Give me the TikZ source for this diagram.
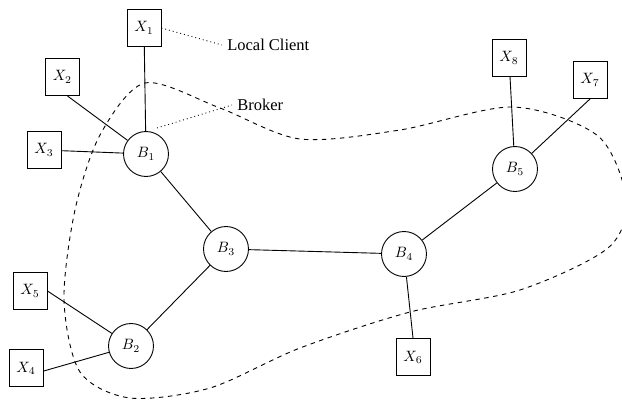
\documentclass[tikz,border=0pt]{standalone}
\usepackage{fontspec}
\setmainfont{Liberation Serif}
\usepackage{tikz}
\usetikzlibrary{shapes,positioning,calc}

\tikzset{
  client/.style={draw, semithick, rectangle, minimum width=22.7pt, minimum height=24.7pt, inner sep=0pt},
  broker/.style={draw, semithick, circle, minimum size=30pt, inner sep=0pt},
  link/.style={semithick},
  tag/.style={semithick, dotted}
}

\begin{document}
\begin{tikzpicture}[x=0.9375cm, y=0.9375cm]
\useasboundingbox (0,0) rectangle (15.55,10);

% brokers
\node[broker] (B1) at (3.65, 6.15) {$B_1$};
\node[broker] (B2) at (3.275, 1.35) {$B_2$};
\node[broker] (B3) at (5.65, 3.775) {$B_3$};
\node[broker] (B4) at (10.1, 3.65) {$B_4$};
\node[broker] (B5) at (12.875, 5.775) {$B_5$};

% local clients
\node[client] (X1) at (3.6, 9.3) {$X_1$};
\node[client] (X2) at (1.56, 8.075) {$X_2$};
\node[client] (X3) at (1.1, 6.25) {$X_3$};
\node[client] (X4) at (0.65, 0.8) {$X_4$};
\node[client] (X5) at (0.75, 2.725) {$X_5$};
\node[client] (X6) at (10.325, 1.075) {$X_6$};
\node[client] (X7) at (14.75, 8.0) {$X_7$};
\node[client] (X8) at (12.725, 8.55) {$X_8$};

% broker network
\draw[link] (B1) -- (B3);
\draw[link] (B2) -- (B3);
\draw[link] (B3) -- (B4);
\draw[link] (B4) -- (B5);

% clients to their brokers
\draw[link] (X1) -- (B1);
\draw[link] (X2.-75) -- (B1);
\draw[link] (X3) -- (B1);
\draw[link] (X5.east) -- (B2);
\draw[link] (X4.-10) -- (B2);
\draw[link] (X6.north) -- (B4);
\draw[link] (X8) -- (B5);
\draw[link] (X7.south) -- (B5);

% region
\draw[semithick, dashed] plot[smooth cycle] coordinates {
  (3.625,7.925) (5.5,7.3) (7.5,6.525) (10.0,6.75) (12.825,7.325)
  (14.95,6.6) (15.66,5.0) (15.2,3.8) (13.0,2.75) (10.25,2.2)
  (7.5,1.3) (5.25,0.3) (3.25,0.05) (2.0,0.7) (1.6,2.5) (1.875,4.75)
  (2.5,6.625)};

% labels
\node[anchor=west, font=\fontsize{11pt}{13pt}\selectfont] (lc) at (5.55, 8.875) {Local Client};
\node[anchor=west, font=\fontsize{11pt}{13pt}\selectfont] (brk) at (5.8, 7.375) {Broker};
\coordinate (btag) at (3.925, 6.8);
\draw[tag] (X1.east) -- (lc.west);
\draw[tag] (btag) -- (brk.west);
\end{tikzpicture}
\end{document}
